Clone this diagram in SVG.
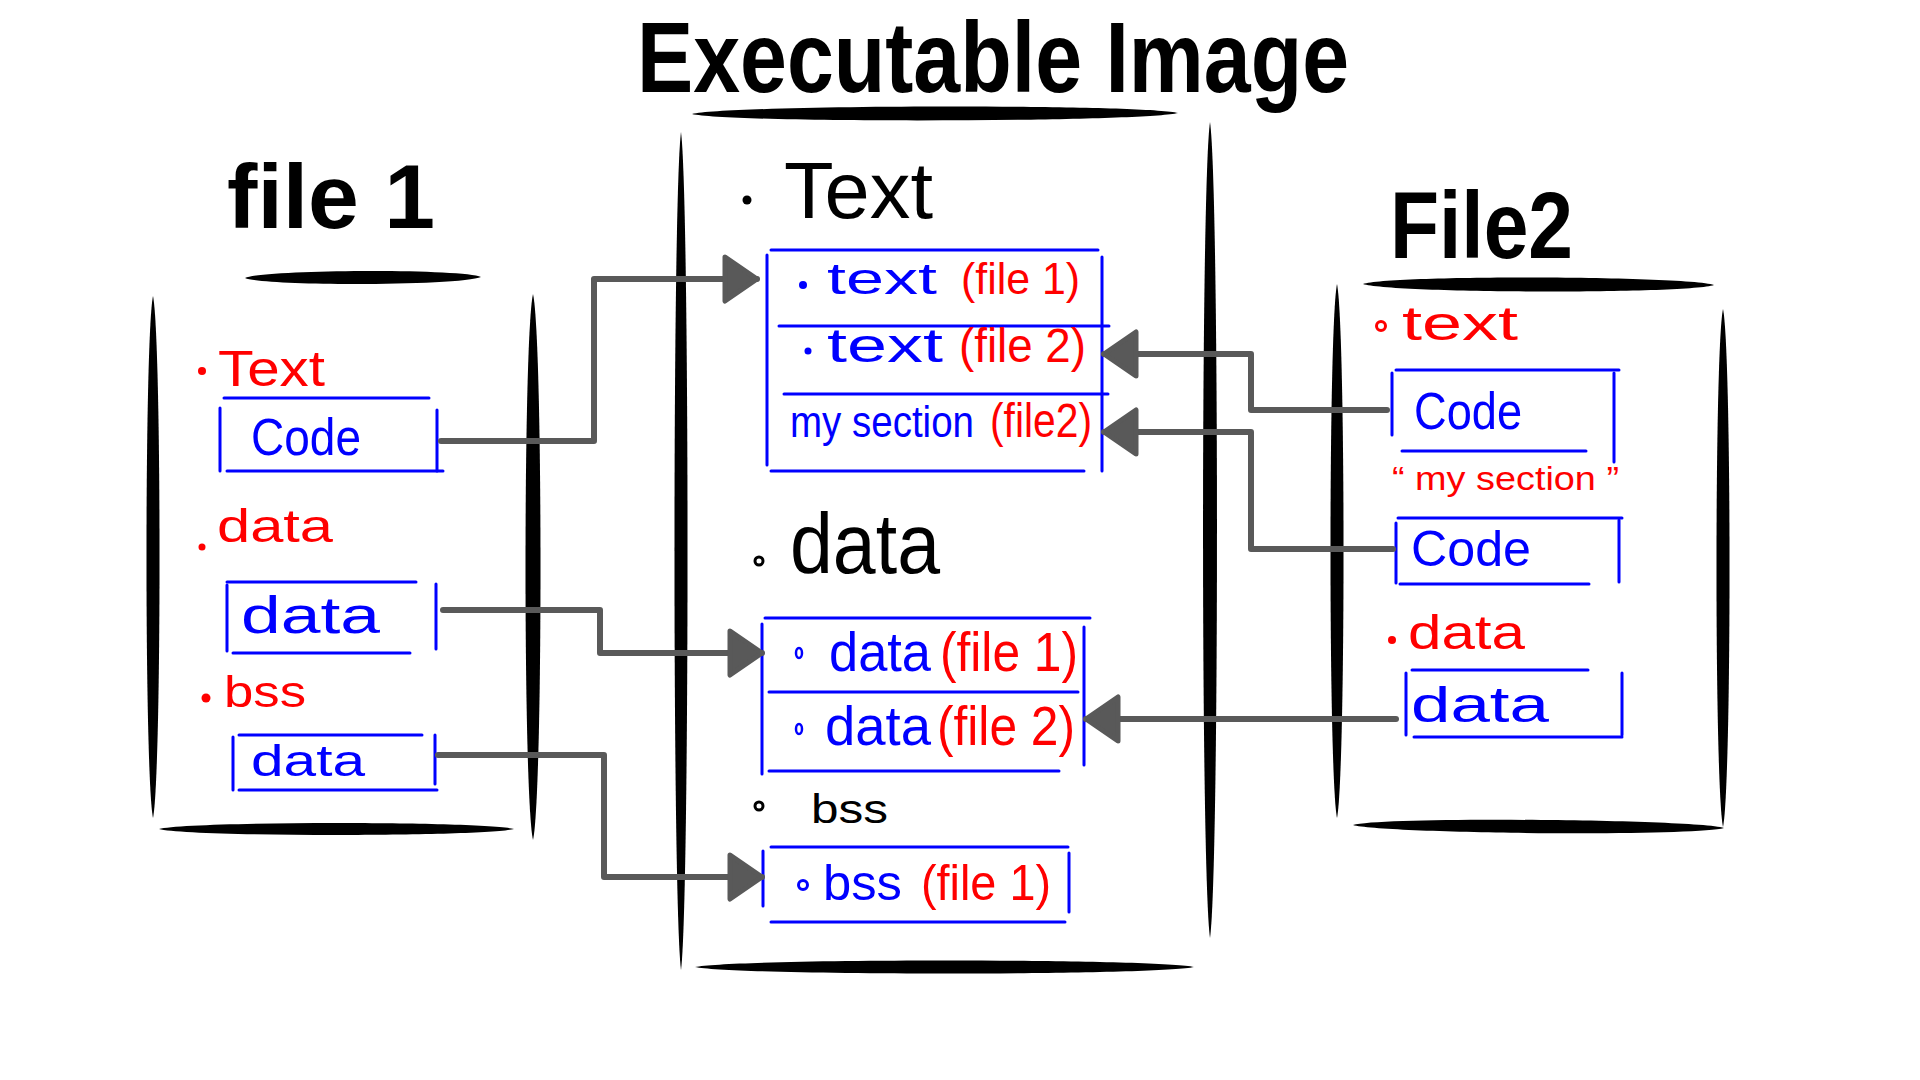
<svg xmlns="http://www.w3.org/2000/svg" width="1920" height="1080" viewBox="0 0 1920 1080">
<style>
.bg{fill:#ffffff}
.brush{fill:#000000}
.bl{stroke:#0000ff;stroke-width:3;stroke-linecap:round;fill:none}
.t{font-family:"Liberation Sans","DejaVu Sans",sans-serif}
.hd{font-weight:700;fill:#000}
.k{fill:#000}
.b{fill:#0000ff}
.r{fill:#ff0000}
.conn{stroke:#595959;stroke-width:6;fill:none;stroke-linejoin:round;stroke-linecap:round}
</style>
<defs>
<marker id="arr" markerUnits="userSpaceOnUse" viewBox="-3 -3 38 50" refX="32" refY="22" markerWidth="38" markerHeight="50" orient="auto">
<path d="M0,0 L32,22 L0,44 Z" fill="#595959" stroke="#595959" stroke-width="5" stroke-linejoin="round"/>
</marker>
</defs>
<rect class="bg" width="1920" height="1080"/>

<g id="title">
<text class="t hd" x="637" y="92" font-size="100" textLength="712" lengthAdjust="spacingAndGlyphs">Executable Image</text>
<path class="brush" d="M692,114 C731,104.7 1139,103.7 1178,113 C1139,122.3 731,123.3 692,114 Z"/>
</g>

<g id="file1">
<text class="t hd" x="227" y="228" font-size="90" textLength="208" lengthAdjust="spacingAndGlyphs">file 1</text>
<path class="brush" d="M245,278 C264,269.3 462,268.3 481,277 C462,285.7 264,286.7 245,278 Z"/>
<path class="brush" d="M153,296 C161.7,338 161.7,776 153,818 C144.3,776 144.3,338 153,296 Z"/>
<path class="brush" d="M533,294 C543,338 543,796 533,840 C523,796 523,338 533,294 Z"/>
<path class="brush" d="M159,829 C187,821 486,821 514,829 C486,837 187,837 159,829 Z"/>
</g>

<g id="file1-text">
<circle cx="202" cy="371" r="4" fill="#ff0000"/>
<text class="t r" x="218" y="386" font-size="50" textLength="107" lengthAdjust="spacingAndGlyphs">Text</text>
<line class="bl" x1="224" y1="398" x2="429" y2="398"/>
<line class="bl" x1="220" y1="408" x2="220" y2="471"/>
<line class="bl" x1="437" y1="410" x2="437" y2="471"/>
<line class="bl" x1="227" y1="471" x2="443" y2="471"/>
<text class="t b" x="251" y="455" font-size="52" textLength="110" lengthAdjust="spacingAndGlyphs">Code</text>
</g>

<g id="file1-data">
<circle cx="202" cy="547" r="3.5" fill="#ff0000"/>
<text class="t r" x="217" y="542" font-size="46" textLength="116" lengthAdjust="spacingAndGlyphs">data</text>
<line class="bl" x1="227" y1="582" x2="416" y2="582"/>
<line class="bl" x1="227" y1="585" x2="227" y2="651"/>
<line class="bl" x1="436" y1="584" x2="436" y2="649"/>
<line class="bl" x1="233" y1="653" x2="410" y2="653"/>
<text class="t b" x="241" y="633" font-size="52" textLength="139" lengthAdjust="spacingAndGlyphs">data</text>
</g>

<g id="file1-bss">
<circle cx="206" cy="698" r="4.5" fill="#ff0000"/>
<text class="t r" x="224" y="707" font-size="44" textLength="82" lengthAdjust="spacingAndGlyphs">bss</text>
<line class="bl" x1="239" y1="735" x2="422" y2="735"/>
<line class="bl" x1="233" y1="737" x2="233" y2="790"/>
<line class="bl" x1="435" y1="735" x2="435" y2="784"/>
<line class="bl" x1="239" y1="790" x2="437" y2="790"/>
<text class="t b" x="251" y="776" font-size="44" textLength="114" lengthAdjust="spacingAndGlyphs">data</text>
</g>

<g id="image">
<path class="brush" d="M681,132 C689.7,199 689.7,903 681,970 C672.3,903 672.3,199 681,132 Z"/>
<path class="brush" d="M1210,122 C1219.3,187 1219.3,873 1210,938 C1200.7,873 1200.7,187 1210,122 Z"/>
<path class="brush" d="M695,967 C735,958.3 1154,958.3 1194,967 C1154,975.7 735,975.7 695,967 Z"/>
</g>

<g id="image-text">
<circle cx="747" cy="200" r="4.5" fill="#000"/>
<text class="t k" x="784" y="218" font-size="80" textLength="149" lengthAdjust="spacingAndGlyphs">Text</text>
<line class="bl" x1="771" y1="250" x2="1098" y2="250"/>
<line class="bl" x1="767" y1="255" x2="767" y2="465"/>
<line class="bl" x1="1102" y1="257" x2="1102" y2="471"/>
<line class="bl" x1="779" y1="326" x2="1109" y2="326"/>
<line class="bl" x1="784" y1="394" x2="1108" y2="394"/>
<line class="bl" x1="771" y1="471" x2="1084" y2="471"/>
<circle cx="803" cy="285" r="4" fill="#0000ff"/>
<text class="t b" x="827" y="294" font-size="44" textLength="110" lengthAdjust="spacingAndGlyphs">text</text>
<text class="t r" x="961" y="294" font-size="44" textLength="119" lengthAdjust="spacingAndGlyphs">(file 1)</text>
<circle cx="808" cy="351" r="3.5" fill="#0000ff"/>
<text class="t b" x="827" y="362" font-size="48" textLength="116" lengthAdjust="spacingAndGlyphs">text</text>
<text class="t r" x="959" y="362" font-size="48" textLength="127" lengthAdjust="spacingAndGlyphs">(file 2)</text>
<text class="t b" x="790" y="437" font-size="44" textLength="184" lengthAdjust="spacingAndGlyphs">my section</text>
<text class="t r" x="990" y="437" font-size="48" textLength="102" lengthAdjust="spacingAndGlyphs">(file2)</text>
</g>

<g id="image-data">
<circle cx="759" cy="561" r="4" fill="none" stroke="#000" stroke-width="3"/>
<text class="t k" x="790" y="573" font-size="85" textLength="150" lengthAdjust="spacingAndGlyphs">data</text>
<line class="bl" x1="765" y1="618" x2="1090" y2="618"/>
<line class="bl" x1="762" y1="624" x2="762" y2="774"/>
<line class="bl" x1="1084" y1="627" x2="1084" y2="765"/>
<line class="bl" x1="769" y1="692" x2="1078" y2="692"/>
<line class="bl" x1="769" y1="771" x2="1059" y2="771"/>
<ellipse cx="799" cy="653" rx="3" ry="5" fill="none" stroke="#0000ff" stroke-width="2.5"/>
<text class="t b" x="829" y="671" font-size="55" textLength="102" lengthAdjust="spacingAndGlyphs">data</text>
<text class="t r" x="940" y="671" font-size="55" textLength="138" lengthAdjust="spacingAndGlyphs">(file 1)</text>
<ellipse cx="799" cy="729" rx="3" ry="5" fill="none" stroke="#0000ff" stroke-width="2.5"/>
<text class="t b" x="825" y="745" font-size="55" textLength="106" lengthAdjust="spacingAndGlyphs">data</text>
<text class="t r" x="937" y="745" font-size="55" textLength="138" lengthAdjust="spacingAndGlyphs">(file 2)</text>
</g>

<g id="image-bss">
<circle cx="759" cy="806" r="4" fill="none" stroke="#000" stroke-width="3"/>
<text class="t k" x="811" y="823" font-size="40" textLength="77" lengthAdjust="spacingAndGlyphs">bss</text>
<line class="bl" x1="771" y1="847" x2="1068" y2="847"/>
<line class="bl" x1="763" y1="851" x2="763" y2="906"/>
<line class="bl" x1="1069" y1="853" x2="1069" y2="912"/>
<line class="bl" x1="771" y1="922" x2="1065" y2="922"/>
<circle cx="803" cy="885" r="4.5" fill="none" stroke="#0000ff" stroke-width="3"/>
<text class="t b" x="823" y="900" font-size="50" textLength="79" lengthAdjust="spacingAndGlyphs">bss</text>
<text class="t r" x="921" y="900" font-size="50" textLength="130" lengthAdjust="spacingAndGlyphs">(file 1)</text>
</g>

<g id="file2">
<text class="t hd" x="1390" y="258" font-size="95" textLength="183" lengthAdjust="spacingAndGlyphs">File2</text>
<path class="brush" d="M1363,284 C1391,274.7 1686,275.7 1714,285 C1686,294.3 1391,293.3 1363,284 Z"/>
<path class="brush" d="M1337,284 C1345.7,327 1345.7,775 1337,818 C1328.3,775 1328.3,327 1337,284 Z"/>
<path class="brush" d="M1723,309 C1731.7,350 1731.7,786 1723,827 C1714.3,786 1714.3,350 1723,309 Z"/>
<path class="brush" d="M1353,825 C1383,816.3 1694,819.3 1724,828 C1694,836.7 1383,833.7 1353,825 Z"/>
</g>

<g id="file2-text">
<circle cx="1381" cy="326" r="4.5" fill="none" stroke="#ff0000" stroke-width="3"/>
<text class="t r" x="1402" y="340" font-size="48" textLength="116" lengthAdjust="spacingAndGlyphs">text</text>
<line class="bl" x1="1396" y1="370" x2="1619" y2="370"/>
<line class="bl" x1="1392" y1="373" x2="1392" y2="435"/>
<line class="bl" x1="1614" y1="373" x2="1614" y2="462"/>
<line class="bl" x1="1402" y1="451" x2="1586" y2="451"/>
<text class="t b" x="1414" y="429" font-size="52" textLength="108" lengthAdjust="spacingAndGlyphs">Code</text>
</g>

<g id="file2-mysection">
<text class="t r" x="1392" y="490" font-size="34" textLength="227" lengthAdjust="spacingAndGlyphs">“ my section ”</text>
<line class="bl" x1="1398" y1="518" x2="1622" y2="518"/>
<line class="bl" x1="1396" y1="523" x2="1396" y2="583"/>
<line class="bl" x1="1619" y1="520" x2="1619" y2="582"/>
<line class="bl" x1="1400" y1="584" x2="1589" y2="584"/>
<text class="t b" x="1411" y="566" font-size="50" textLength="120" lengthAdjust="spacingAndGlyphs">Code</text>
</g>

<g id="file2-data">
<circle cx="1392" cy="640" r="4" fill="#ff0000"/>
<text class="t r" x="1408" y="649" font-size="48" textLength="117" lengthAdjust="spacingAndGlyphs">data</text>
<line class="bl" x1="1412" y1="670" x2="1588" y2="670"/>
<line class="bl" x1="1406" y1="673" x2="1406" y2="735"/>
<line class="bl" x1="1622" y1="673" x2="1622" y2="735"/>
<line class="bl" x1="1414" y1="737" x2="1622" y2="737"/>
<text class="t b" x="1411" y="722" font-size="50" textLength="138" lengthAdjust="spacingAndGlyphs">data</text>
</g>

<g id="connectors">
<path class="conn" marker-end="url(#arr)" d="M441,441 H594 V279 H757"/>
<path class="conn" marker-end="url(#arr)" d="M443,610 H600 V653 H762"/>
<path class="conn" marker-end="url(#arr)" d="M438,755 H604 V877 H762"/>
<path class="conn" marker-end="url(#arr)" d="M1387,410 H1251 V354 H1104"/>
<path class="conn" marker-end="url(#arr)" d="M1393,549 H1251 V432 H1104"/>
<path class="conn" marker-end="url(#arr)" d="M1396,719 H1086"/>
</g>
</svg>
